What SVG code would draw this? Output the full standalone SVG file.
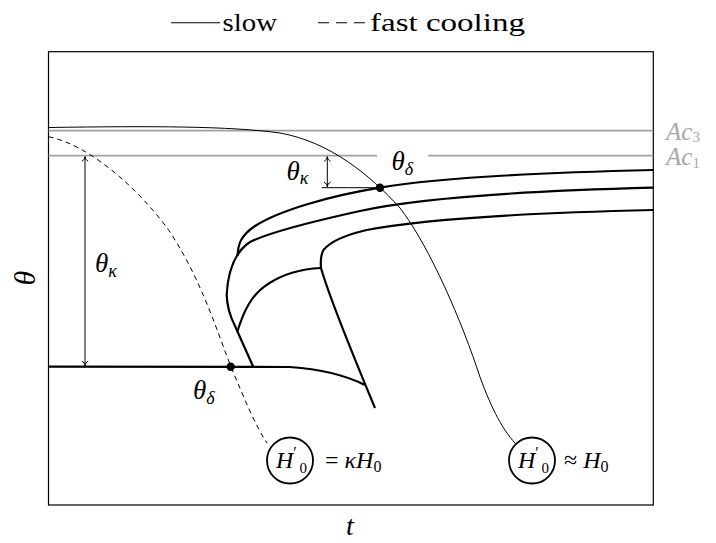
<svg xmlns="http://www.w3.org/2000/svg" width="716" height="543" viewBox="0 0 716 543">
<style>
  text { font-family: "Liberation Serif", "DejaVu Serif", serif; }
  .txt { fill: #000; }
  .math { font-style: italic; fill: #000; }
  .up { font-style: normal; }
  .gray { fill: #a8a8a8; }
  .frame { fill: none; stroke: #000; stroke-width: 1.2; }
  .ac { fill: none; stroke: #a0a0a0; stroke-width: 1.7; }
  .thick { fill: none; stroke: #000; stroke-width: 2.2; stroke-linejoin: round; }
  .thin { fill: none; stroke: #000; stroke-width: 1; }
  .dash { fill: none; stroke: #000; stroke-width: 1; stroke-dasharray: 5 4; }
  .circ { fill: #fff; stroke: #000; stroke-width: 1.8; }
</style>
<defs>
  <marker id="tip" markerUnits="userSpaceOnUse" markerWidth="12" markerHeight="12" viewBox="-6 -6 12 12" refX="0" refY="0" orient="auto-start-reverse" overflow="visible">
    <path d="M-4.5,-3.2 C-3.8,-1.2 -1.6,-0.3 0,0 C-1.6,0.3 -3.8,1.2 -4.5,3.2" fill="none" stroke="#000" stroke-width="1"/>
  </marker>
</defs>

<rect width="716" height="543" fill="#fff"/>

<g id="legend">
  <line x1="171" y1="22.7" x2="220" y2="22.7" stroke="#000" stroke-width="1.1"/>
  <text class="txt" x="222.5" y="31" font-size="26" textLength="54.5" lengthAdjust="spacingAndGlyphs">slow</text>
  <line x1="318" y1="22.7" x2="365" y2="22.7" stroke="#000" stroke-width="1.1" stroke-dasharray="11 7"/>
  <text class="txt" x="370" y="31" font-size="26" textLength="155" lengthAdjust="spacingAndGlyphs">fast cooling</text>
</g>

<rect class="frame" x="48.5" y="51.7" width="604.8" height="453.3"/>

<g id="ac-lines">
  <line class="ac" x1="48.5" y1="130.7" x2="653.3" y2="130.7"/>
  <line class="ac" x1="48.5" y1="155.7" x2="377" y2="155.7"/>
  <line class="ac" x1="428.3" y1="155.7" x2="653.3" y2="155.7"/>
  <text class="math gray" x="666" y="140" font-size="25">Ac<tspan class="up gray" font-size="15" dy="2">3</tspan></text>
  <text class="math gray" x="666" y="165" font-size="25">Ac<tspan class="up gray" font-size="15" dy="3">1</tspan></text>
</g>

<g id="connectors">
  <path class="thin" d="M48.5,127.5 C150,126 230,126 280,133 C330,142 370,175 400,208 C430,247 462,322 480,377 C492,410 503,430 515,443"/>
  <path class="dash" d="M48.5,136.7 C90,145 140,190 170,232 C200,278 215,325 231,367 C245,400 255,425 267,443"/>
  <path class="thick" d="M48.5,366.7 L290,367 C320,369 345,375 365,385"/>
  <path class="thick" d="M653.3,170 C520,173 430,179 380,187.7 C330,196 280,210 255,226 C240,236 238,245 237.5,256"/>
  <path class="thick" d="M653.3,187.7 C520,191 420,198 360,211 C310,222 270,232 250,242 C235,252 228,270 226.7,295 C227,308 230,316 235,326 L253.3,367"/>
  <path class="thick" d="M237.3,331.7 C244,310 252,294 268,284 C283,274 300,269 321,268"/>
  <path class="thick" d="M653.3,210 C520,213 420,220 366.7,230 C345,235 330,242 323.5,250 C320,256 320.5,262 321,268 C330,300 355,360 375,408"/>
  <line class="thin" x1="321.7" y1="187.7" x2="380" y2="187.7"/>
  <line class="thin" x1="327.3" y1="156.7" x2="327.3" y2="186.7" marker-start="url(#tip)" marker-end="url(#tip)"/>
  <line class="thin" x1="85" y1="156.7" x2="85" y2="365.7" marker-start="url(#tip)" marker-end="url(#tip)"/>
  <circle cx="380" cy="187.7" r="4.2" fill="#000"/>
  <circle cx="230.7" cy="366.7" r="4.2" fill="#000"/>
</g>

<g id="labels">
  <text class="math" x="95" y="272" font-size="27">θ<tspan font-size="18" dy="5">κ</tspan></text>
  <text class="math" x="286.5" y="180" font-size="27">θ<tspan font-size="18" dy="4">κ</tspan></text>
  <text class="math" x="391.5" y="170" font-size="27">θ<tspan font-size="18" dy="5">δ</tspan></text>
  <text class="math" x="193" y="399" font-size="27">θ<tspan font-size="18" dy="5">δ</tspan></text>
  <text class="math" x="350" y="535" font-size="28" text-anchor="middle">t</text>
  <text class="math" transform="translate(35,278) rotate(-90)" font-size="30" text-anchor="middle">θ</text>
</g>

<g id="node-fast">
  <circle class="circ" cx="290" cy="460.5" r="23"/>
  <text class="math" x="276" y="468.3" font-size="24">H<tspan class="up" font-size="16" dy="-10">′</tspan></text>
  <text class="up" x="299.5" y="473" font-size="15">0</text>
  <text class="math" x="325" y="468.3" font-size="24"><tspan class="up">=</tspan> κH<tspan class="up" font-size="16" dy="4">0</tspan></text>
</g>

<g id="node-slow">
  <circle class="circ" cx="532" cy="460.5" r="23"/>
  <text class="math" x="518" y="468.3" font-size="24">H<tspan class="up" font-size="16" dy="-10">′</tspan></text>
  <text class="up" x="541.5" y="473" font-size="15">0</text>
  <text class="math" x="564" y="468.3" font-size="24"><tspan class="up">≈</tspan> H<tspan class="up" font-size="16" dy="4">0</tspan></text>
</g>
</svg>
